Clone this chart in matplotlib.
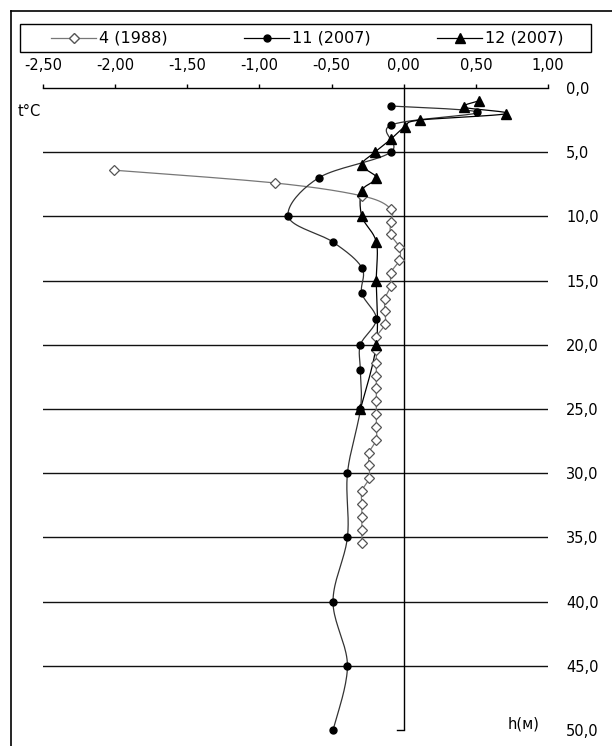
import numpy as np
import matplotlib.pyplot as plt
from matplotlib.lines import Line2D
from matplotlib.patches import Rectangle

## Données (h en m, t en °C)
noms = ['4 (1988)', '11 (2007)', '12 (2007)']

h_4 = [6.4, 7.4, 8.4, 9.4, 10.4, 11.4, 12.4, 13.4, 14.4, 15.4, 16.4, 17.4, 18.4, 19.4, 20.4,
       21.4, 22.4, 23.4, 24.4, 25.4, 26.4, 27.4, 28.4, 29.4, 30.4, 31.4, 32.4, 33.4, 34.4, 35.4]
t_4 = [-2.01, -0.89, -0.29, -0.09, -0.09, -0.09, -0.03, -0.03, -0.09, -0.09, -0.13, -0.13, -0.13, -0.19, -0.19,
       -0.19, -0.19, -0.19, -0.19, -0.19, -0.19, -0.19, -0.24, -0.24, -0.24, -0.29, -0.29, -0.29, -0.29, -0.29]

h_11 = [1.4, 1.9, 2.9, 5.0, 7.0, 10.0, 12.0, 14.0, 16.0, 18.0, 20.0, 22.0, 25.0, 30.0, 35.0, 40.0, 45.0, 50.0]
t_11 = [-0.09, 0.51, -0.09, -0.09, -0.59, -0.80, -0.49, -0.29, -0.29, -0.19, -0.30, -0.30, -0.30, -0.39, -0.39, -0.49, -0.39, -0.49]

h_12 = [1.0, 1.5, 2.0, 2.5, 3.0, 4.0, 5.0, 6.0, 7.0, 8.0, 10.0, 12.0, 15.0, 20.0, 25.0]
t_12 = [0.52, 0.42, 0.71, 0.11, 0.01, -0.09, -0.20, -0.29, -0.19, -0.29, -0.29, -0.19, -0.19, -0.19, -0.30]

xticks = [-2.5, -2.0, -1.5, -1.0, -0.5, 0.0, 0.5, 1.0]
yticks = [0, 5, 10, 15, 20, 25, 30, 35, 40, 45, 50]


def lisse(x, y, n=20):
    "courbe lissée façon Excel (Catmull-Rom)"
    p = np.column_stack([x, y]).astype(float)
    p = np.vstack([p[0], p, p[-1]])
    out = []
    s = np.linspace(0, 1, n, endpoint=False)[:, None]
    for i in range(1, len(p) - 2):
        p0, p1, p2, p3 = p[i - 1], p[i], p[i + 1], p[i + 2]
        c1 = p1 + (p2 - p0) / 6
        c2 = p2 - (p3 - p1) / 6
        out.append((1 - s) ** 3 * p1 + 3 * (1 - s) ** 2 * s * c1 + 3 * (1 - s) * s ** 2 * c2 + s ** 3 * p2)
    out.append(p[-2][None, :])
    out = np.vstack(out)
    return out[:, 0], out[:, 1]


W, H = 612, 746
fig = plt.figure(figsize=(W / 100, H / 100), dpi=100)
ax = fig.add_axes([43 / W, 1 - 730 / H, (548 - 43) / W, (730 - 88) / H])
ax.set_xlim(-2.5, 1.0)
ax.set_ylim(50, 0)

for s in ['left', 'right', 'bottom']:
    ax.spines[s].set_visible(False)
ax.spines['top'].set_linewidth(1)

ax.xaxis.set_ticks_position('top')
ax.set_xticks(xticks)
ax.set_xticklabels([f'{v:.2f}'.replace('.', ',') for v in xticks])
ax.tick_params(axis='x', direction='out', length=3, width=1, pad=8, labelsize=10.5)

ax.yaxis.set_ticks_position('right')
ax.set_yticks(yticks)
ax.set_yticklabels([f'{v:.1f}'.replace('.', ',') for v in yticks])
ax.tick_params(axis='y', length=0, pad=13, labelsize=10.5)

for v in yticks[1:-1]:
    ax.axhline(v, color='#111111', lw=1, zorder=1)
ax.axvline(0, color='black', lw=1, zorder=1)
ax.plot([-0.045, 0], [50, 50], color='black', lw=1, clip_on=False)

# courbes
x, y = lisse(t_4, h_4)
ax.plot(x, y, color='#777777', lw=0.9, zorder=2)
ax.plot(t_4, h_4, ls='none', marker='D', ms=5.5, mfc='white', mec='#555555', mew=0.9, zorder=3, clip_on=False)

x, y = lisse(t_11, h_11)
ax.plot(x, y, color='#333333', lw=0.9, zorder=2, clip_on=False)
ax.plot(t_11, h_11, ls='none', marker='o', ms=5, color='black', zorder=4, clip_on=False)

x, y = lisse(t_12, h_12)
ax.plot(x, y, color='black', lw=0.9, zorder=2)
ax.plot(t_12, h_12, ls='none', marker='^', ms=7, color='black', zorder=4, clip_on=False)

fig.text(18 / W, 1 - 111 / H, 't°C', fontsize=10.5, va='center', ha='left')
fig.text(508 / W, 1 - 724 / H, 'h(м)', fontsize=10.5, va='center', ha='left')

# cadre extérieur
fig.add_artist(Line2D([10.5 / W, 10.5 / W], [0, 1 - 10.5 / H], color='black', lw=1.2))
fig.add_artist(Line2D([10.5 / W, 1], [1 - 10.5 / H, 1 - 10.5 / H], color='black', lw=1.2))

# légende
fig.add_artist(Rectangle((20 / W, 1 - 52 / H), (591 - 20) / W, 28 / H, fill=False,
                         edgecolor='black', lw=1, transform=fig.transFigure))
styles = [dict(marker='D', ms=5.5, mfc='white', mec='#555555', color='#777777'),
          dict(marker='o', ms=5, color='black', mfc='black'),
          dict(marker='^', ms=7, color='black', mfc='black')]
debut = [51, 244, 437]
yl = 1 - 38 / H
for nom, st, x0 in zip(noms, styles, debut):
    fig.add_artist(Line2D([x0 / W, (x0 + 45) / W], [yl, yl], lw=0.9, color=st['color']))
    fig.add_artist(Line2D([(x0 + 22.5) / W], [yl], ls='none', marker=st['marker'], ms=st['ms'],
                          mfc=st['mfc'], mec=st.get('mec', 'black')))
    fig.text((x0 + 48) / W, yl, nom, fontsize=11.5, va='center', ha='left')

fig.savefig('out.png', dpi=100)
